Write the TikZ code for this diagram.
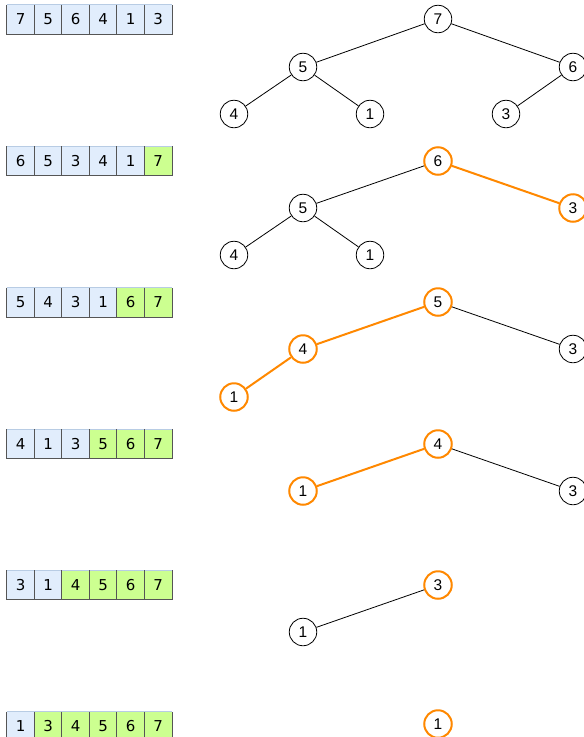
\documentclass[tikz,border=0pt]{standalone}
\usepackage{fontspec}
\setmainfont{Liberation Sans}
\newfontfamily\cellfont{DejaVu Sans}
\usetikzlibrary{positioning}

\definecolor{cellblue}{HTML}{E1EDFC}
\definecolor{cellgreen}{HTML}{CCFF90}
\definecolor{cellrule}{HTML}{555555}
\definecolor{celltop}{HTML}{B8CCE4}
\definecolor{hot}{HTML}{FF8800}

\begin{document}
\begin{tikzpicture}[x=1pt, y=-1pt,
    cell/.style={minimum width=27.5pt, minimum height=29pt, inner sep=0pt,
      font=\cellfont\fontsize{15}{15}\selectfont},
    key/.style={circle, draw, line width=0.8pt, minimum size=27.5pt, inner sep=0pt,
      font=\fontsize{15.5}{15.5}\selectfont},
    hotkey/.style={key, draw=hot, line width=2pt},
    edge/.style={draw, line width=0.8pt},
    hotedge/.style={draw=hot, line width=2pt}]
    \clip (0,0) rectangle (584,737);

    % Arrays
    \foreach \r/\vals/\done in {0/{7,5,6,4,1,3}/0, 1/{6,5,3,4,1,7}/1,
        2/{5,4,3,1,6,7}/2, 3/{4,1,3,5,6,7}/3, 4/{3,1,4,5,6,7}/4, 5/{1,3,4,5,6,7}/5} {
      \foreach \v [count=\i] in \vals {
        \ifnum\i>\numexpr6-\done\relax \def\c{cellgreen}\else \def\c{cellblue}\fi
        \node[cell, fill=\c] (a\r\i) at ({7+27.5*(\i-0.5)}, {19.5+141.4*\r}) {\v};
        \draw[celltop, line width=0.8pt] (a\r\i.north west) -- (a\r\i.north east);
        \draw[cellrule, line width=0.8pt] (a\r\i.north west) -- (a\r\i.south west)
          -- (a\r\i.south east) -- (a\r\i.north east);
      }
    }

    % Heap 1
    \node[key] (r0n7) at (438,19) {7};
    \node[key] (r0n5) at (303,67) {5};
    \node[key] (r0n6) at (573,67) {6};
    \node[key] (r0n4) at (234,114) {4};
    \node[key] (r0n1) at (370,114) {1};
    \node[key] (r0n3) at (506,114) {3};
    \draw[edge] (r0n7) -- (r0n5);
    \draw[edge] (r0n7) -- (r0n6);
    \draw[edge] (r0n5) -- (r0n4);
    \draw[edge] (r0n5) -- (r0n1);
    \draw[edge] (r0n6) -- (r0n3);

    % Heap 2
    \node[hotkey] (r1n6) at (438,161) {6};
    \node[key] (r1n5) at (303,208) {5};
    \node[hotkey] (r1n3) at (573,208) {3};
    \node[key] (r1n4) at (234,255) {4};
    \node[key] (r1n1) at (370,255) {1};
    \draw[edge] (r1n6) -- (r1n5);
    \draw[hotedge] (r1n6) -- (r1n3);
    \draw[edge] (r1n5) -- (r1n4);
    \draw[edge] (r1n5) -- (r1n1);

    % Heap 3
    \node[hotkey] (r2n5) at (438,302) {5};
    \node[hotkey] (r2n4) at (303,349) {4};
    \node[key] (r2n3) at (573,349) {3};
    \node[hotkey] (r2n1) at (234,397) {1};
    \draw[hotedge] (r2n5) -- (r2n4);
    \draw[edge] (r2n5) -- (r2n3);
    \draw[hotedge] (r2n4) -- (r2n1);

    % Heap 4
    \node[hotkey] (r3n4) at (438,444) {4};
    \node[hotkey] (r3n1) at (303,491) {1};
    \node[key] (r3n3) at (573,491) {3};
    \draw[hotedge] (r3n4) -- (r3n1);
    \draw[edge] (r3n4) -- (r3n3);

    % Heap 5
    \node[hotkey] (r4n3) at (438,585) {3};
    \node[key] (r4n1) at (303,632) {1};
    \draw[edge] (r4n3) -- (r4n1);

    % Heap 6
    \node[hotkey] (r5n1) at (438,724) {1};
\end{tikzpicture}
\end{document}
